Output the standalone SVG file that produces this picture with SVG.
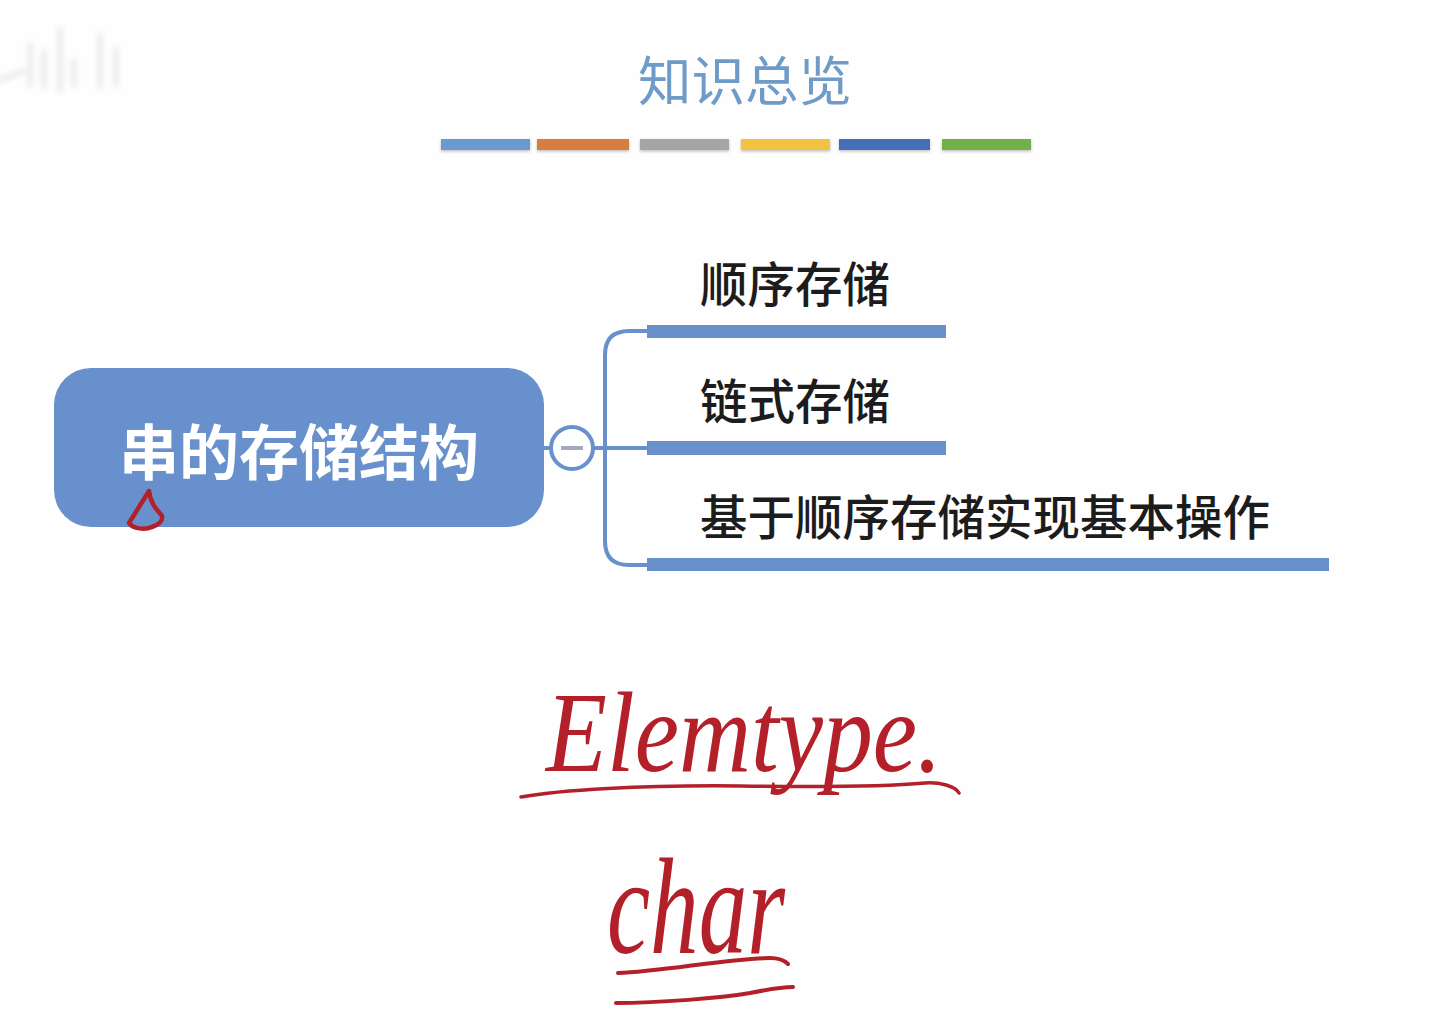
<svg xmlns="http://www.w3.org/2000/svg" width="1445" height="1033" viewBox="0 0 1445 1033">
<defs>
<style>
.cjk{font-family:"Noto Sans CJK SC","Noto Sans",sans-serif}
.label{font-size:47.5px;fill:#1c1c1c;font-weight:500}
.bar{fill:#6890cd}
.conn{fill:none;stroke:#6890cd;stroke-width:4}
.ink{fill:none;stroke:#b3202a;stroke-linecap:round;stroke-linejoin:round}
.hand{font-family:"Liberation Serif",serif;font-style:italic;fill:#b3202a}
</style>
<filter id="blur" x="-10%" y="-10%" width="120%" height="120%"><feGaussianBlur stdDeviation="2.5"/></filter>
<filter id="soft" x="-5%" y="-50%" width="110%" height="220%"><feDropShadow dx="0" dy="1.5" stdDeviation="1.5" flood-color="#000" flood-opacity="0.25"/></filter>
</defs>
<rect width="1445" height="1033" fill="#fefefe"/>
<g id="watermark" filter="url(#blur)" fill="none" stroke="#efefef" stroke-width="7" stroke-linecap="round">
<path d="M0 80L22 72M30 45V84M44 52V86M60 30V90M74 62V84M100 36V86M116 50V84"/>
</g>
<g id="title">
<text class="cjk" x="745" y="101" text-anchor="middle" font-size="53.5" fill="#6f9bc8">知识总览</text>
<g filter="url(#soft)">
<rect x="441" y="139" width="89" height="11" fill="#6a9bd0"/>
<rect x="537" y="139" width="92" height="11" fill="#d97c3f"/>
<rect x="640" y="139" width="89" height="11" fill="#a5a5a5"/>
<rect x="741" y="139" width="89" height="11" fill="#f2c341"/>
<rect x="839" y="139" width="91" height="11" fill="#4470b8"/>
<rect x="942" y="139" width="89" height="11" fill="#72b04b"/>
</g>
</g>
<g id="connectors">
<path class="conn" d="M544 448H647"/>
<path class="conn" d="M647 331H629Q605 331 605 355V541Q605 565 629 565H647"/>
</g>
<g id="root">
<rect x="54" y="368" width="490" height="159" rx="37" fill="#6890cd"/>
<text class="cjk" x="299" y="475" text-anchor="middle" font-size="60" font-weight="700" fill="#fff">串的存储结构</text>
</g>
<g id="collapse">
<circle cx="572" cy="448" r="21" fill="#fff" stroke="#6890cd" stroke-width="4"/>
<rect x="561" y="446" width="22" height="4" fill="#a3a9bd"/>
</g>
<g id="node1">
<text class="cjk label" x="700" y="302">顺序存储</text>
<rect class="bar" x="647" y="325" width="299" height="13"/>
</g>
<g id="node2">
<text class="cjk label" x="700" y="419">链式存储</text>
<rect class="bar" x="647" y="441" width="299" height="14"/>
</g>
<g id="node3">
<text class="cjk label" x="700" y="535">基于顺序存储实现基本操作</text>
<rect class="bar" x="647" y="558" width="682" height="13"/>
</g>
<g id="annotations">
<path class="ink" stroke-width="4.5" d="M149 491L129 523C133 529 145 530 152 527C158 525 163 521 162 516C158 510 151 506 149 491"/>
<text class="hand" x="546" y="771" font-size="114" textLength="396" lengthAdjust="spacingAndGlyphs">Elemtype.</text>
<path class="ink" stroke-width="3.5" d="M521 797C560 790 640 785 740 786C810 787 880 787 925 783C940 782 955 786 959 793"/>
<text class="hand" x="607" y="953" font-size="138" textLength="178" lengthAdjust="spacingAndGlyphs">char</text>
<path class="ink" stroke-width="4" d="M618 973C660 972 730 958 770 958C778 958 784 960 788 964"/>
<path class="ink" stroke-width="4" d="M616 1003C660 1003 720 998 750 993C765 990 780 987 793 987"/>
</g>
</svg>
